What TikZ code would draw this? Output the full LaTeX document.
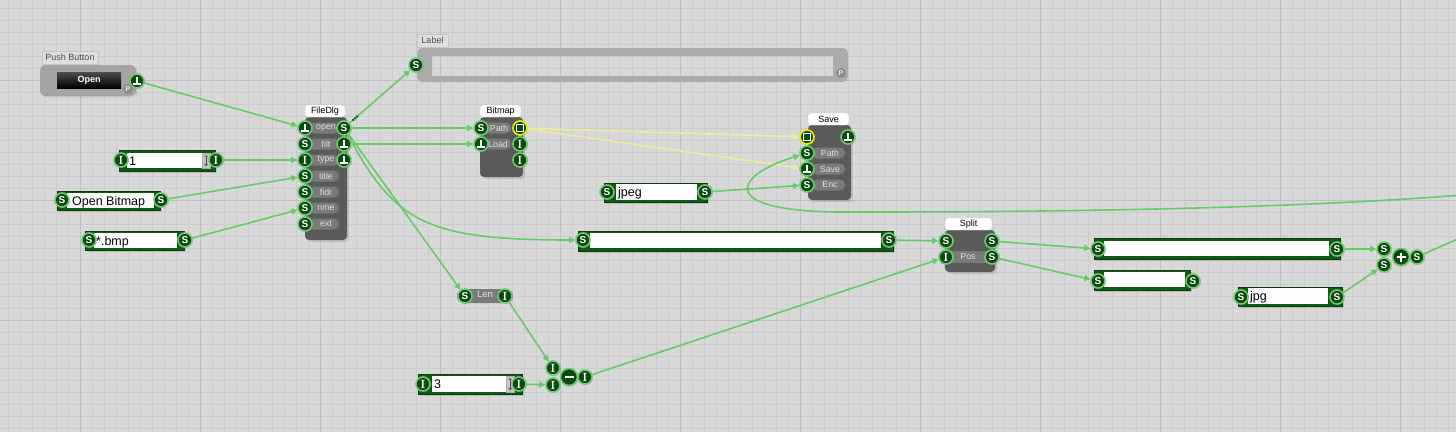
\documentclass[tikz,border=0pt]{standalone}
\usepackage{fontspec}
\setsansfont{Liberation Sans}
\usetikzlibrary{fit,calc,arrows.meta,shadows}
\definecolor{bg}{HTML}{D8D8D8}
\definecolor{gmin}{HTML}{CCCCCC}
\definecolor{gmaj}{HTML}{BFBFBF}
\definecolor{pdark}{HTML}{0B4A10}
\definecolor{pring}{HTML}{72C672}
\definecolor{qring}{HTML}{F0EC00}
\definecolor{wirec}{HTML}{66CC66}
\definecolor{ywirec}{HTML}{EDEDA0}
\definecolor{modc}{HTML}{5A5A5A}
\definecolor{pillc}{HTML}{7A7A7A}
\definecolor{pilltxt}{HTML}{E0E0E0}
\definecolor{framec}{HTML}{0F5A12}
\definecolor{pgrey}{HTML}{8C8C8C}
\definecolor{pbody}{HTML}{A4A4A4}
\definecolor{tabc}{HTML}{DEDEDE}
\definecolor{lblc}{HTML}{ABABAB}
\pgfdeclarelayer{bglayer}
\pgfdeclarelayer{wirelayer}
\pgfsetlayers{bglayer,wirelayer,main}
\tikzset{
  port/.style={circle, fill=pdark, draw=pring, line width=1.6pt, minimum size=14pt, inner sep=0pt,
    text=white, font=\sffamily\bfseries\fontsize{10}{10}\selectfont,
    drop shadow={shadow xshift=1pt, shadow yshift=-1pt, opacity=0.3}},
  pS/.style={port},
  pI/.style={port, font=\rmfamily\bfseries\fontsize{12}{12}\selectfont},
  pT/.style={port, path picture={
    \draw[white,line width=1.4pt] ([shift={(-4pt,-3pt)}]path picture bounding box.center) -- ([shift={(4pt,-3pt)}]path picture bounding box.center);
    \draw[white,line width=1.4pt] ([shift={(0pt,-3pt)}]path picture bounding box.center) -- ([shift={(0pt,3.6pt)}]path picture bounding box.center);}},
  pQ/.style={port, draw=qring, path picture={
    \draw[white,line width=1.2pt] ([shift={(-3.2pt,-3.2pt)}]path picture bounding box.center) rectangle ([shift={(3.2pt,3.2pt)}]path picture bounding box.center);}},
  opminus/.style={port, minimum size=17pt, path picture={
    \draw[white,line width=2pt] ([shift={(-4.5pt,0pt)}]path picture bounding box.center) -- ([shift={(4.5pt,0pt)}]path picture bounding box.center);}},
  opplus/.style={port, minimum size=17pt, path picture={
    \draw[white,line width=2pt] ([shift={(-4.5pt,0pt)}]path picture bounding box.center) -- ([shift={(4.5pt,0pt)}]path picture bounding box.center);
    \draw[white,line width=2pt] ([shift={(0pt,-4.5pt)}]path picture bounding box.center) -- ([shift={(0pt,4.5pt)}]path picture bounding box.center);}},
  pP/.style={circle, fill=pgrey, minimum size=10pt, inner sep=0pt, text=white!85!gray,
    font=\sffamily\bfseries\fontsize{7}{7}\selectfont},
  modbody/.style={fill=modc, rounded corners=4pt, inner sep=0pt,
    drop shadow={shadow xshift=2pt, shadow yshift=-2pt, opacity=0.25}},
  titletab/.style={fill=white, draw=gray!35, rounded corners=3pt, inner sep=0pt},
  greytab/.style={fill=tabc, draw=gray!45, line width=0.4pt, inner sep=0pt},
  tabtxt/.style={inner sep=0pt, text=black, font=\sffamily\fontsize{9}{9}\selectfont},
  greytxt/.style={inner sep=0pt, text=black!70, font=\sffamily\fontsize{9}{9}\selectfont},
  pillbox/.style={fill=pillc, rounded corners=5pt, inner sep=0pt},
  pilltext/.style={inner sep=0pt, text=pilltxt, font=\sffamily\fontsize{8.8}{9}\selectfont},
  tbframe/.style={fill=framec, draw=framec!70!black, line width=0.5pt, inner sep=0pt,
    drop shadow={shadow xshift=1.5pt, shadow yshift=-1.5pt, opacity=0.3}},
  fieldbox/.style={fill=white, inner sep=0pt},
  ftxt/.style={anchor=base west, inner sep=0pt, text=black, font=\sffamily\fontsize{12.5}{12.5}\selectfont},
  spinbox/.style={fill=gray!45, draw=gray!65, line width=0.4pt, inner sep=0pt},
  spinarr/.style={draw=black!70, line width=0.7pt, {Straight Barb[length=1.5pt,width=3pt]}-{Straight Barb[length=1.5pt,width=3pt]}},
  wire/.style={draw=wirec, line width=1.6pt, -{Triangle[length=6pt,width=6pt]}},
  ywire/.style={draw=ywirec, line width=1.6pt, -{Triangle[length=6pt,width=6pt]}},
}
\begin{document}
\begin{tikzpicture}[x=1pt,y=-1pt]
\useasboundingbox (0,0) rectangle (1456,432);
\clip (0,0) rectangle (1456,432);
\begin{pgfonlayer}{bglayer}
\fill[bg] (0,0) rectangle (1456,432);
\foreach \x in {8,20,...,1456} \draw[gmin,line width=0.6pt] (\x,0) -- (\x,432);
\foreach \y in {8,20,...,432} \draw[gmin,line width=0.6pt] (0,\y) -- (1456,\y);
\foreach \x in {80,200,...,1456} \draw[gmaj,line width=0.8pt] (\x,0) -- (\x,432);
\foreach \y in {80,200,...,432} \draw[gmaj,line width=0.8pt] (0,\y) -- (1456,\y);

% Push Button
\node[greytab, fit={(42,51)(98,64)}] (pbtab) {};
\node[greytxt] (pbtabt) at (70,57.5) {Push Button};
\node[fill=pbody, rounded corners=5pt, inner sep=0pt, fit={(40,65)(136,96)},
  drop shadow={shadow xshift=1.5pt, shadow yshift=-1.5pt, opacity=0.2}] (pbbody) {};
\node[inner sep=0pt, top color=black!70, bottom color=black, fit={(57,72)(121,88)}] (pbbtn) {};
\node[inner sep=0pt, text=white, font=\sffamily\bfseries\fontsize{9}{9}\selectfont] (pbbtnt) at (89,80) {Open};

% Label
\node[greytab, fit={(417,34)(448,47)}] (lbtab) {};
\node[greytxt] (lbtabt) at (432.5,40.5) {Label};
\fill[lblc, even odd rule] [rounded corners=5pt] (417,48) rectangle (848,82) [sharp corners] (432,56) rectangle (833,76);

% FileDlg
\node[modbody, fit={(305,117)(347,240)}] (fdbody) {};
\node[titletab, fit={(305,105)(345,117)}] (fdtab) {};
\node[tabtxt] (fdtabt) at (325,111) {FileDlg};
\foreach \t/\y in {open/128,filt/144,type/160,title/176,fidr/192,nme/208,ext/224}{
  \node[pillbox, fit={(309,\y-5.5)(339,\y+5.5)}] (fdp\t) {};
  \node[pilltext] (fdt\t) at (326,\y) {\t};}

% Bitmap
\node[modbody, fit={(480,117)(523,177)}] (bmbody) {};
\node[titletab, fit={(480,105)(521,117)}] (bmtab) {};
\node[tabtxt] (bmtabt) at (500.5,111) {Bitmap};
\node[pillbox, fit={(484,122.5)(511,133.5)}] (bmpath) {};
\node[pilltext] (bmpatht) at (499,128) {Path};
\node[pillbox, fit={(484,138.5)(511,149.5)}] (bmload) {};
\node[pilltext] (bmloadt) at (498,144) {Load};

% Save
\node[modbody, fit={(808,125)(851,200)}] (svbody) {};
\node[titletab, fit={(808,113)(849,125)}] (svtab) {};
\node[tabtxt] (svtabt) at (828.5,119) {Save};
\foreach \t/\y in {Path/153,Save/169,Enc/185}{
  \node[pillbox, fit={(812,\y-5.5)(845,\y+5.5)}] (svp\t) {};
  \node[pilltext] (svt\t) at (830,\y) {\t};}

% Split
\node[modbody, fit={(945,230)(995,272)}] (spbody) {};
\node[titletab, fit={(945,218)(992,230)}] (sptab) {};
\node[tabtxt] (sptabt) at (968.5,224) {Split};
\node[fill=pillc, inner sep=0pt, fit={(945,251)(995,263)}] (sppos) {};
\node[pilltext] (spposT) at (968,257) {Pos};

% Len
\node[pillbox, rounded corners=7pt, fit={(457,289)(513,303)}] (lnbody) {};
\node[pilltext, font=\sffamily\fontsize{9.5}{9.5}\selectfont] (lntxt) at (485,294.5) {Len};

% Text boxes
\node[tbframe, fit={(119,150)(215,171)}] (onF) {};
\node[fieldbox, fit={(127,153)(202,168)}] (onV) {};
\node[ftxt] (onT) at (129,165) {1};
\node[spinbox, fit={(202,153)(210,168)}] (onSp) {};
\draw[spinarr] (206,155) -- (206,166);

\node[tbframe, fit={(57,191)(160,210)}] (obF) {};
\node[fieldbox, fit={(67,193)(154,208)}] (obV) {};
\node[ftxt] (obT) at (72,205) {Open Bitmap};

\node[tbframe, fit={(85,231)(184,250)}] (bmF) {};
\node[fieldbox, fit={(94,233)(177,248)}] (bmV) {};
\node[ftxt] (bmT) at (96,245) {*.bmp};

\node[tbframe, fit={(604,183)(707,202)}] (jpF) {};
\node[fieldbox, fit={(616,184)(697,200)}] (jpV) {};
\node[ftxt] (jpT) at (618,196.5) {jpeg};

\node[tbframe, fit={(578,231)(893,251)}] (bgF) {};
\node[fieldbox, fit={(590,233)(881,248)}] (bgV) {};

\node[tbframe, fit={(1094,238)(1340,259)}] (o1F) {};
\node[fieldbox, fit={(1104,241)(1329,256)}] (o1V) {};

\node[tbframe, fit={(1094,270)(1190,290)}] (o2F) {};
\node[fieldbox, fit={(1104,272)(1185,287)}] (o2V) {};

\node[tbframe, fit={(1238,287)(1342,306)}] (jgF) {};
\node[fieldbox, fit={(1248,288)(1328,304)}] (jgV) {};
\node[ftxt] (jgT) at (1250,300.5) {jpg};

\node[tbframe, fit={(418,374)(522,394)}] (thF) {};
\node[fieldbox, fit={(432,376)(506,392)}] (thV) {};
\node[ftxt] (thT) at (434,388.5) {3};
\node[spinbox, fit={(506,376)(514,392)}] (thSp) {};
\draw[spinarr] (510,378) -- (510,390);
\end{pgfonlayer}

% Ports
\node[pT] (pbT) at (137,81) {};
\node[pP] (pbP) at (128,89) {P};
\node[pS] (lbS) at (416,65) {S};
\node[pP] (lbP) at (841,73) {P};

\node[pT] (fi1) at (305,128) {};
\node[pS] (fi2) at (305,144) {S};
\node[pI] (fi3) at (305,160) {I};
\node[pS] (fi4) at (305,176) {S};
\node[pS] (fi5) at (305,192) {S};
\node[pS] (fi6) at (305,208) {S};
\node[pS] (fi7) at (305,224) {S};
\node[pS] (fo1) at (344,128) {S};
\node[pT] (fo2) at (344,144) {};
\node[pT] (fo3) at (344,160) {};

\node[pS] (bi1) at (481,128) {S};
\node[pT] (bi2) at (481,144) {};
\node[pQ] (bo1) at (520,128) {};
\node[pI] (bo2) at (520,144) {I};
\node[pI] (bo3) at (520,160) {I};

\node[pQ] (si1) at (807,137) {};
\node[pS] (si2) at (807,153) {S};
\node[pT] (si3) at (807,169) {};
\node[pS] (si4) at (807,185) {S};
\node[pT] (so1) at (848,137) {};

\node[pS] (pi1) at (946,241) {S};
\node[pI] (pi2) at (946,257) {I};
\node[pS] (po1) at (992,241) {S};
\node[pS] (po2) at (992,257) {S};

\node[pI] (onL) at (121,160) {I};
\node[pI] (onR) at (216,160) {I};
\node[pS] (obL) at (62,200) {S};
\node[pS] (obR) at (161,200) {S};
\node[pS] (bmL) at (89,240) {S};
\node[pS] (bmR) at (185,240) {S};
\node[pS] (jpL) at (607,192) {S};
\node[pS] (jpR) at (705,192) {S};
\node[pS] (bgL) at (583,240) {S};
\node[pS] (bgR) at (889,240) {S};
\node[pS] (o1L) at (1098,249) {S};
\node[pS] (o1R) at (1337,249) {S};
\node[pS] (o2L) at (1098,281) {S};
\node[pS] (o2R) at (1193,281) {S};
\node[pS] (jgL) at (1241,297) {S};
\node[pS] (jgR) at (1337,297) {S};
\node[pI] (thL) at (423,384) {I};
\node[pI] (thR) at (519,384) {I};

\node[pS] (lnS) at (465,296) {S};
\node[pI] (lnI) at (505,296) {I};

\node[pI] (mi1) at (553,368) {I};
\node[pI] (mi2) at (553,385) {I};
\node[opminus] (mop) at (569,377) {};
\node[pI] (mo) at (585,377) {I};

\node[pS] (ad1) at (1384,249) {S};
\node[pS] (ad2) at (1384,265) {S};
\node[opplus] (adop) at (1401,257) {};
\node[pS] (ado) at (1417,257) {S};

\coordinate (offR) at (1462,195);
\coordinate (offR2) at (1462,237);

% Wires
\begin{pgfonlayer}{wirelayer}
\draw[wire] (pbT) -- (fi1);
\draw[wire] (fo1) -- (lbS);
\draw[pdark, line width=2pt, dash pattern=on 1.4pt off 1.2pt] ($(fo1)!0.12!(lbS)$) -- ($(fo1)!0.2!(lbS)$);
\draw[wire] (fo1) -- (bi1);
\draw[wire] (fo2) -- (bi2);
\draw[wire] (fo1) .. controls (395,222) and (425,240) .. (bgL);
\draw[wire] (fo1) -- (lnS);
\draw[wire] (onR) -- (fi3);
\draw[wire] (obR) -- (fi4);
\draw[wire] (bmR) -- (fi6);
\draw[ywire] (bo1) -- (si1);
\draw[ywire] (bo1) -- (si3);
\draw[wire] (jpR) -- (si4);
\draw[wire] (offR) .. controls (1250,212) and (950,212) .. (850,212) .. controls (715,213) and (732,176) .. (si2);
\draw[wire] (bgR) -- (pi1);
\draw[wire] (po1) -- (o1L);
\draw[wire] (po2) -- (o2L);
\draw[wire] (o1R) -- (ad1);
\draw[wire] (jgR) -- (ad2);
\draw[draw=wirec, line width=1.6pt] (ado) -- (offR2);
\draw[wire] (lnI) -- (mi1);
\draw[wire] (thR) -- (mi2);
\draw[wire] (mo) -- (pi2);
\end{pgfonlayer}
\end{tikzpicture}
\end{document}
